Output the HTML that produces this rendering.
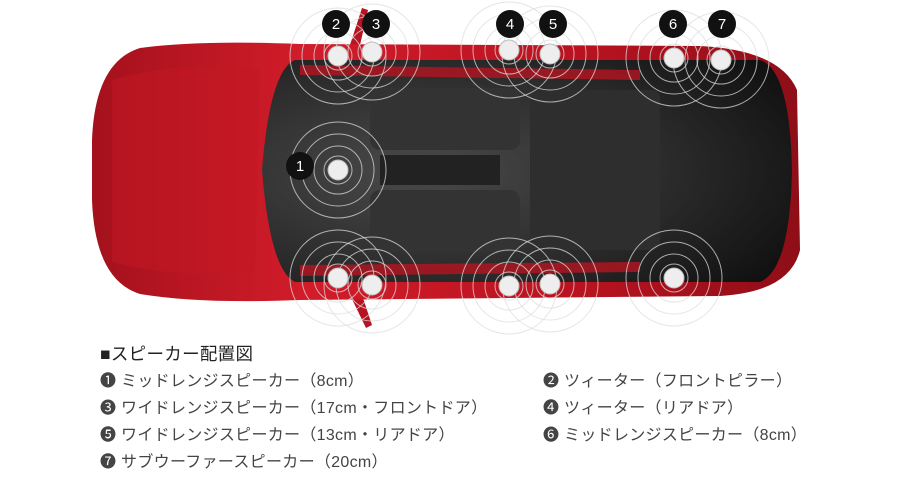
<!DOCTYPE html>
<html><head><meta charset="utf-8"><style>
html,body{margin:0;padding:0;background:#fff;width:905px;height:482px;overflow:hidden}
.t{position:absolute;font-family:"Liberation Sans","Noto Sans CJK JP",sans-serif;color:#444;font-size:16px;white-space:nowrap;line-height:1;letter-spacing:.3px}
.h{color:#222;font-size:17.5px}
</style></head><body>
<svg width="905" height="340" style="position:absolute;left:0;top:0">
<defs>
<linearGradient id="r" x1="0" y1="0" x2="1" y2="0"><stop offset="0" stop-color="#a3111c"/><stop offset=".3" stop-color="#d21c2a"/><stop offset=".7" stop-color="#b8121f"/><stop offset="1" stop-color="#8e0e18"/></linearGradient>
<radialGradient id="c" cx=".3" cy=".5" r=".8"><stop offset="0" stop-color="#4a4a4a"/><stop offset=".6" stop-color="#2a2a2a"/><stop offset="1" stop-color="#111"/></radialGradient>
<g id="s" fill="none" stroke="#ddd" stroke-width="1" opacity=".75"><circle r="14"/><circle r="24"/><circle r="36"/><circle r="48"/></g>
</defs>
<path d="M350,45 L362,8 L368,10 L360,45 Z" fill="#b51420"/>
<path d="M350,295 L366,328 L372,325 L362,295 Z" fill="#b51420"/>
<path d="M140,48 Q200,40 300,44 L700,46 Q780,50 797,90 L800,250 Q790,292 720,296 L300,300 Q200,304 140,294 Q95,280 92,200 L92,140 Q95,62 140,48 Z" fill="url(#r)"/>
<path d="M112,80 Q180,60 260,70 L255,270 Q180,280 112,262 Z" fill="#c41824" opacity=".5"/>
<path d="M295,60 Q270,70 262,170 Q270,270 295,282 L760,282 Q790,270 792,170 Q790,70 760,60 Z" fill="url(#c)"/>
<rect x="370" y="88" width="150" height="62" rx="10" fill="#333"/>
<rect x="370" y="190" width="150" height="62" rx="10" fill="#333"/>
<rect x="530" y="90" width="130" height="160" rx="8" fill="#2e2e2e"/>
<rect x="380" y="155" width="120" height="30" fill="#222"/>
<path d="M300,65 L640,70 L640,80 L300,75Z M300,265 L640,262 L640,272 L300,276Z" fill="#b51420" opacity=".8"/>
<use href="#s" x="338" y="170"/><use href="#s" x="338" y="56"/><use href="#s" x="372" y="52"/><use href="#s" x="509" y="50"/><use href="#s" x="550" y="54"/><use href="#s" x="674" y="58"/><use href="#s" x="721" y="60"/>
<use href="#s" x="338" y="278"/><use href="#s" x="372" y="285"/><use href="#s" x="509" y="286"/><use href="#s" x="550" y="284"/><use href="#s" x="674" y="278"/>
<g fill="#eee" stroke="#bbb">
<circle cx="338" cy="170" r="10"/><circle cx="338" cy="56" r="10"/><circle cx="372" cy="52" r="10"/><circle cx="509" cy="50" r="10"/><circle cx="550" cy="54" r="10"/><circle cx="674" cy="58" r="10"/><circle cx="721" cy="60" r="10"/>
<circle cx="338" cy="278" r="10"/><circle cx="372" cy="285" r="10"/><circle cx="509" cy="286" r="10"/><circle cx="550" cy="284" r="10"/><circle cx="674" cy="278" r="10"/>
</g>
<g fill="#111"><circle cx="300" cy="166" r="14"/><circle cx="336" cy="24" r="14"/><circle cx="376" cy="24" r="14"/><circle cx="510" cy="24" r="14"/><circle cx="553" cy="24" r="14"/><circle cx="673" cy="24" r="14"/><circle cx="722" cy="24" r="14"/></g>
<g fill="#fff" font-family="Liberation Sans,sans-serif" font-size="15" text-anchor="middle">
<text x="300" y="171">1</text><text x="336" y="29">2</text><text x="376" y="29">3</text><text x="510" y="29">4</text><text x="553" y="29">5</text><text x="673" y="29">6</text><text x="722" y="29">7</text></g>
</svg>
<div class="t h" style="left:100px;top:346px">■スピーカー配置図</div>
<div class="t" style="left:100px;top:374px">❶ ミッドレンジスピーカー（8cm）</div>
<div class="t" style="left:100px;top:401px">❸ ワイドレンジスピーカー（17cm・フロントドア）</div>
<div class="t" style="left:100px;top:428px">❺ ワイドレンジスピーカー（13cm・リアドア）</div>
<div class="t" style="left:100px;top:455px">❼ サブウーファースピーカー（20cm）</div>
<div class="t" style="left:543px;top:374px">❷ ツィーター（フロントピラー）</div>
<div class="t" style="left:543px;top:401px">❹ ツィーター（リアドア）</div>
<div class="t" style="left:543px;top:428px">❻ ミッドレンジスピーカー（8cm）</div>
</body></html>
